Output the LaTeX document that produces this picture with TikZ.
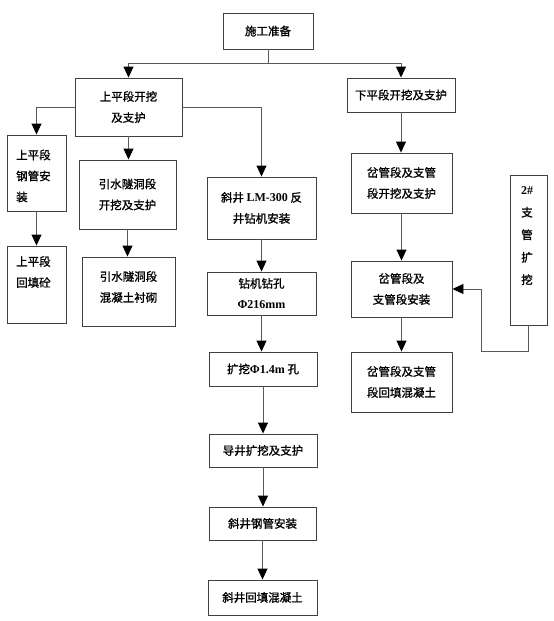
\documentclass[tikz,border=0pt]{standalone}
\usepackage{fontspec}
\setmainfont{Liberation Serif}
\newfontfamily\cjk{Noto Sans CJK SC}[FakeBold=1.2]
\usetikzlibrary{arrows.meta}
\newcommand{\lat}[1]{{\rmfamily\bfseries\fontsize{12}{21}\selectfont #1}}
\begin{document}
\begin{tikzpicture}[x=1pt,y=-1pt,
  box/.style={draw=black!75,line width=0.9pt,rectangle,inner sep=0pt,font=\cjk\fontsize{11.5}{21}\selectfont,align=center},
  lbl/.style={inner sep=0pt,font=\cjk\fontsize{11.5}{21}\selectfont},
  conn/.style={draw=black!65,line width=0.9pt},
  arr/.style={conn,-{Triangle[width=10pt,length=11pt,fill=black,color=black]}}]
\useasboundingbox (0,0) rectangle (554,621);
% boxes
\node[box,minimum width=90,minimum height=36] (prep) at (268,31) {施工准备};
\node[box,minimum width=107,minimum height=58] (up) at (128.5,107) {上平段开挖\\及支护};
\node[box,minimum width=108,minimum height=34] (down) at (401,95) {下平段开挖及支护};
\node[box,minimum width=59,minimum height=76] (pipe1) at (36.5,173) {};
\node[lbl,anchor=west,align=left] (pipe1t) at (16,176) {上平段\\钢管安\\装};
\node[box,minimum width=59,minimum height=77] (fill1) at (36.5,284.5) {};
\node[lbl,anchor=north west,align=left] (fill1t) at (16,256) {上平段\\回填砼};
\node[box,minimum width=97,minimum height=69] (yin1) at (127.5,194.5) {引水隧洞段\\开挖及支护};
\node[box,minimum width=93,minimum height=69] (yin2) at (128.5,291.5) {};
\node[lbl,align=center] (yin2t) at (128.5,287) {引水隧洞段\\混凝土衬砌};
\node[box,minimum width=109,minimum height=62] (xie1) at (261.5,208) {斜井 \lat{LM-300} 反\\井钻机安装};
\node[box,minimum width=109,minimum height=43] (zuan) at (261.5,293.5) {钻机钻孔\\\lat{Φ216mm}};
\node[box,minimum width=108,minimum height=34] (kuo) at (263,369) {扩挖\lat{Φ1.4m} 孔};
\node[box,minimum width=108,minimum height=33] (dao) at (263,450.5) {导井扩挖及支护};
\node[box,minimum width=107,minimum height=33] (xiegang) at (262.5,523.5) {斜井钢管安装};
\node[box,minimum width=109,minimum height=35] (xiehui) at (262.5,597.5) {斜井回填混凝土};
\node[box,minimum width=101,minimum height=60] (cha1) at (401.5,183) {岔管段及支管\\段开挖及支护};
\node[box,minimum width=101,minimum height=56] (cha2) at (401.5,289) {岔管段及\\支管段安装};
\node[box,minimum width=101,minimum height=60] (cha3) at (401.5,382) {岔管段及支管\\段回填混凝土};
\node[box,minimum width=37,minimum height=150] (zhi) at (528.5,250) {};
\node[lbl,anchor=north,align=center,font=\cjk\fontsize{11.5}{22.5}\selectfont] (zhit) at (527,186) {\lat{2\#}\\支\\管\\扩\\挖};
% connectors
\coordinate (j0) at (prep.south |- 0,63);
\draw[conn] (prep.south) -- (j0);
\draw[arr] (j0) -| (up.north);
\draw[arr] (j0) -| (down.north);
\draw[arr] (up.west) -| (pipe1.north);
\draw[arr] (up.east) -| (xie1.north);
\draw[arr] (up.south) -- (yin1.north -| up.south);
\draw[arr] (pipe1.south) -- (fill1.north);
\draw[arr] (yin1.south) -- (yin2.north -| yin1.south);
\draw[arr] (xie1.south) -- (zuan.north);
\draw[arr] (zuan.south) -- (kuo.north -| zuan.south);
\draw[arr] (kuo.south) -- (dao.north);
\draw[arr] (dao.south) -- (xiegang.north -| dao.south);
\draw[arr] (xiegang.south) -- (xiehui.north -| xiegang.south);
\draw[arr] (down.south) -- (cha1.north -| down.south);
\draw[arr] (cha1.south) -- (cha2.north);
\draw[arr] (cha2.south) -- (cha3.north);
\coordinate (k1) at (528,351);
\coordinate (k2) at (481,351);
\coordinate (k3) at (481,289);
\draw[arr] (zhi.south -| k1) -- (k1) -- (k2) -- (k3) -- (cha2.east);
\end{tikzpicture}
\end{document}
